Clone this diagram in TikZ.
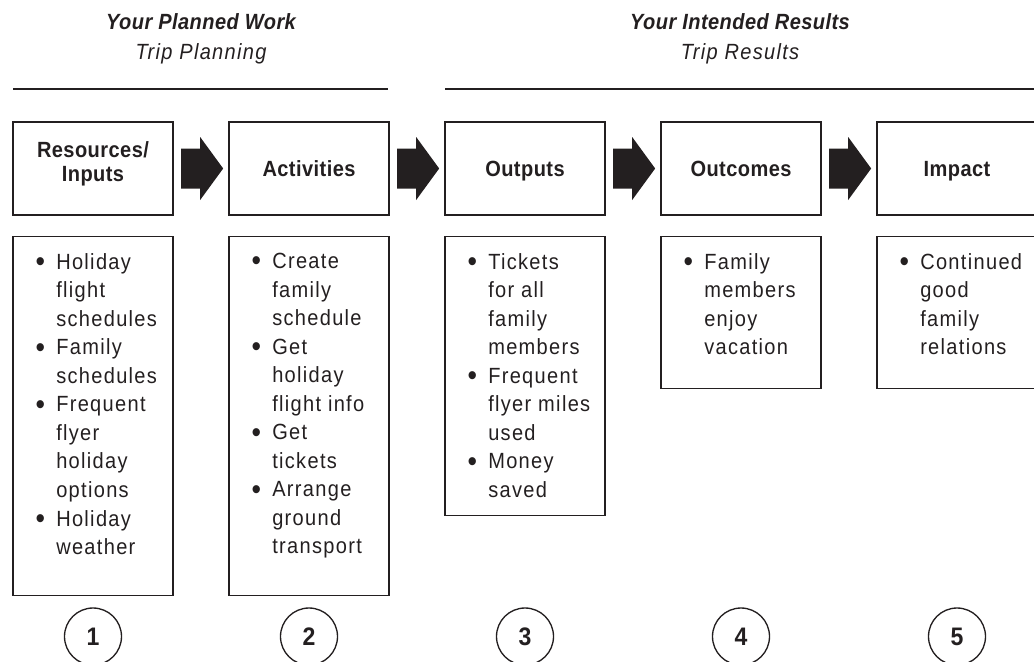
\documentclass[tikz,border=0pt]{standalone}
\usepackage{fontspec}
\setmainfont{Liberation Sans}[FakeStretch=0.91, LetterSpace=6,
  BoldFeatures={LetterSpace=2}, BoldItalicFeatures={LetterSpace=2}]
\usetikzlibrary{calc}
\definecolor{ink}{RGB}{35,31,32}
\newcommand{\bul}{\makebox[15.5pt][l]{\raisebox{-0.1em}{\scalebox{1.35}{•}}}}
\newcommand{\ind}{\hspace*{15.5pt}}

\begin{document}
\begin{tikzpicture}[x=0.75pt, y=-0.75pt, ink,
    every node/.style={text=ink},
    headbox/.style={draw, line width=1pt, minimum width=120pt, minimum height=69.75pt, inner sep=0pt,
      align=center, text height=11.8pt, text depth=0pt, font=\fontsize{16.5}{17.5}\selectfont\bfseries},
    listbox/.style={draw, line width=1pt, minimum width=120pt, anchor=north, inner sep=0pt},
    listtext/.style={anchor=north west, inner sep=0pt, align=left, font=\fontsize{16.5}{21.4}\selectfont},
    stepnum/.style={circle, draw, line width=1pt, minimum size=42.75pt, inner sep=0pt,
      font=\fontsize{19}{19}\selectfont\bfseries},
    title/.style={anchor=base, font=\fontsize{16.5}{18}\selectfont\bfseries\itshape},
    subtitle/.style={anchor=base, font=\fontsize{16.5}{18}\selectfont\itshape}]
        \clip (0,0) rectangle (1034,661);

        %---------------- Titles ----------------%
        \node[title] (planT) at (201,29) {Your Planned Work};
        \node[subtitle] (planS) at (201,59) {Trip Planning};
        \node[title] (resT) at (740,29) {Your Intended Results};
        \node[subtitle] (resS) at (740,59) {Trip Results};
        \coordinate (planL) at (13,89);
        \coordinate (planR) at (388,89);
        \coordinate (resL) at (445,89);
        \coordinate (resR) at (1040,89);
        \draw[line width=1.5pt] (planL) -- (planR);
        \draw[line width=1.5pt] (resL) -- (resR);

        %---------------- Header boxes ----------------%
        \node[headbox, text height=18.75pt, text depth=0pt] (H1) at (93,168.5) {Resources/\\Inputs};
        \node[headbox] (H2) at (309,168.5) {Activities};
        \node[headbox] (H3) at (525,168.5) {Outputs};
        \node[headbox] (H4) at (741,168.5) {Outcomes};
        \node[headbox] (H5) at (957,168.5) {Impact};
        % block arrows between the boxes
        \foreach \a in {1,...,4}
          \fill[shift={(H\a.east)}] (7.5,-20) -- (26.5,-20) -- (26.5,-31.5) -- (49.5,0)
            -- (26.5,31.5) -- (26.5,20) -- (7.5,20) -- cycle;

        %---------------- List boxes ----------------%
        \node[listbox, minimum height=269.25pt] (L1) at (93,236) {};
        \node[listbox, minimum height=269.25pt] (L2) at (309,236) {};
        \node[listbox, minimum height=209.25pt] (L3) at (525,236) {};
        \node[listbox, minimum height=114pt] (L4) at (741,236) {};
        \node[listbox, minimum height=114pt] (L5) at (957,236) {};
        \node[listtext] (T1) at ($(L1.north west)+(23,17)$)
          {\bul Holiday\\\ind flight\\\ind schedules\\\bul Family\\\ind schedules\\\bul Frequent\\\ind flyer\\\ind holiday\\\ind options\\\bul Holiday\\\ind weather};
        \node[listtext] (T2) at ($(L2.north west)+(23,17)$)
          {\bul Create\\\ind family\\\ind schedule\\\bul Get\\\ind holiday\\\ind flight info\\\bul Get\\\ind tickets\\\bul Arrange\\\ind ground\\\ind transport};
        \node[listtext] (T3) at ($(L3.north west)+(23,17)$)
          {\bul Tickets\\\ind for all\\\ind family\\\ind members\\\bul Frequent\\\ind flyer miles\\\ind used\\\bul Money\\\ind saved};
        \node[listtext] (T4) at ($(L4.north west)+(23,17)$)
          {\bul Family\\\ind members\\\ind enjoy\\\ind vacation};
        \node[listtext] (T5) at ($(L5.north west)+(23,17)$)
          {\bul Continued\\\ind good\\\ind family\\\ind relations};

        %---------------- Step numbers ----------------%
        \foreach \i in {1,...,5}
          \node[stepnum] (C\i) at (93+216*\i-216,636.5) {\i};
\end{tikzpicture}
\end{document}
